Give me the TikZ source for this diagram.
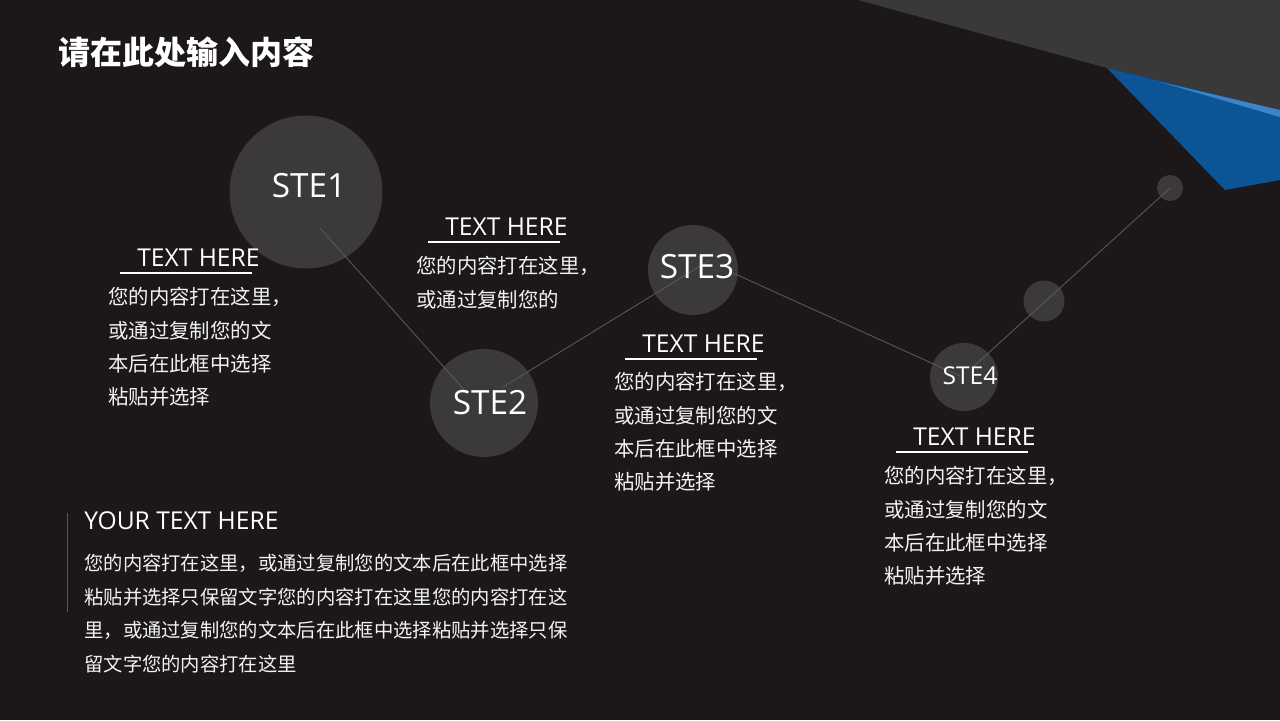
\documentclass[tikz,border=0pt]{standalone}
\usepackage{fontspec}
\setmainfont{Open Sans}
\newfontfamily\cjk{Noto Sans CJK SC}
\usetikzlibrary{calc}
\definecolor{bgdark}{HTML}{1C1819}
\definecolor{circlegray}{HTML}{3B393A}
\definecolor{topgray}{HTML}{3A393A}
\definecolor{deepblue}{HTML}{0B5597}
\definecolor{lightblue}{HTML}{3E83C6}
\definecolor{linegray}{HTML}{5A5859}
\definecolor{bodywhite}{HTML}{F2F2F2}
\begin{document}
\begin{tikzpicture}[x=0.02cm, y=-0.02cm, text=white,
  stecircle/.style={circle, fill=circlegray, inner sep=0pt},
  stelabel/.style={inner sep=0pt, font=\fontsize{19}{22}\selectfont},
  link/.style={draw=linegray, line width=0.5pt},
  heading/.style={anchor=west, inner sep=0pt, font=\fontsize{14}{17}\selectfont},
  uline/.style={draw=white, line width=0.8pt},
  body/.style={anchor=north west, inner sep=0pt, align=left, text=bodywhite, font=\cjk\fontsize{11.6}{19}\selectfont}]
  \useasboundingbox (0,0) rectangle (1280,720);
  \fill[bgdark] (0,0) rectangle (1280,720);
  \fill[topgray] (858,0) -- (1280,0) -- (1280,110) -- (1107,68) -- cycle;
  \fill[deepblue] (1107,68) -- (1280,110) -- (1280,180) -- (1225,190) -- cycle;
  \fill[lightblue] (1160,82) -- (1280,110) -- (1280,117) -- cycle;

  \node[anchor=west, inner sep=0pt, font=\cjk\fontsize{18.2}{21}\selectfont\bfseries] (title) at (58,52) {请在此处输入内容};

  \node[stecircle, minimum size=3.06cm] (ste1) at (306,192) {};
  \node[stecircle, minimum size=2.16cm] (ste2) at (484,403) {};
  \node[stecircle, minimum size=1.8cm] (ste3) at (693,270) {};
  \node[stecircle, minimum size=1.36cm] (ste4) at (964,377) {};
  \node[stecircle, minimum size=0.82cm] (dotmid) at (1044,301) {};
  \node[stecircle, minimum size=0.52cm] (dottop) at (1170,188) {};

  \coordinate (p1) at (320,228);
  \coordinate (p2) at (467,393);
  \coordinate (p3) at (503,387);
  \coordinate (p4) at (710,260);
  \coordinate (p5) at (733,273);
  \coordinate (p6) at (960,376);
  \coordinate (p7) at (973,367);
  \draw[link] (p1) -- (p2);
  \draw[link] (p3) -- (p4);
  \draw[link] (p5) -- (p6);
  \draw[link] (p7) -- (dottop.center);

  \node[stelabel] at ($(ste1)+(3,-6)$) {STE1};
  \node[stelabel] at ($(ste2)+(6,0)$) {STE2};
  \node[stelabel] at ($(ste3)+(4,-3)$) {STE3};
  \node[stelabel, font=\fontsize{14}{17}\selectfont] at ($(ste4)+(6,-1)$) {STE4};

  \node[heading] (head1) at (137,258) {TEXT HERE};
  \node[heading] (head2) at (445,227) {TEXT HERE};
  \node[heading] (head3) at (642,344) {TEXT HERE};
  \node[heading] (head4) at (913,437) {TEXT HERE};
  \foreach \h in {head1,head2,head3,head4}
    \draw[uline] ($(\h.south west)+(-17,6)$) -- +(132,0);

  \node[body] (text1) at (108,287) {您的内容打在这里，\\或通过复制您的文\\本后在此框中选择\\粘贴并选择};
  \node[body] (text2) at (416,256) {您的内容打在这里，\\或通过复制您的};
  \node[body] (text3) at (614,372) {您的内容打在这里，\\或通过复制您的文\\本后在此框中选择\\粘贴并选择};
  \node[body] (text4) at (884,466) {您的内容打在这里，\\或通过复制您的文\\本后在此框中选择\\粘贴并选择};

  \coordinate (bartop) at (67,513);
  \coordinate (barbot) at (67,612);
  \draw[link] (bartop) -- (barbot);
  \node[heading] (yourhead) at (84,521) {YOUR TEXT HERE};
  \node[body, font=\cjk\fontsize{11}{19.1}\selectfont] (yourtext) at (84,554) {您的内容打在这里，或通过复制您的文本后在此框中选择\\粘贴并选择只保留文字您的内容打在这里您的内容打在这\\里，或通过复制您的文本后在此框中选择粘贴并选择只保\\留文字您的内容打在这里};
\end{tikzpicture}
\end{document}
